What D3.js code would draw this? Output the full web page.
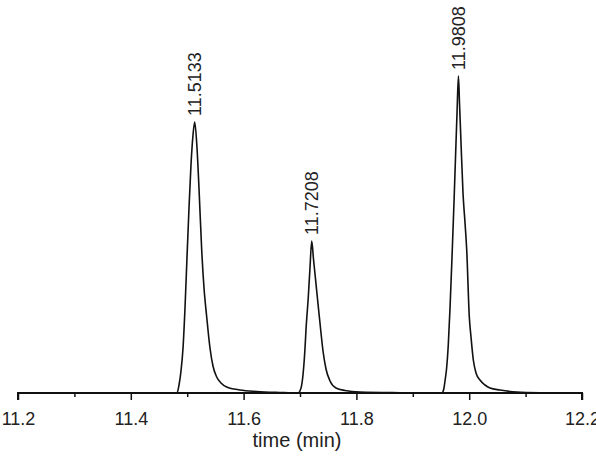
<!DOCTYPE html>
<html>
<head>
<meta charset="utf-8">
<script src="https://cdn.jsdelivr.net/npm/d3@7"></script>
<style>
  html, body { margin: 0; padding: 0; background: #fff; }
  svg { display: block; }
  text { font-family: "Liberation Sans", Arial, sans-serif; fill: #222; }
</style>
</head>
<body>
<svg id="chart" width="596" height="456"></svg>
<script>
// ---- data ----
const xDomain = [11.2, 12.2];
const majorTicks = [11.2, 11.4, 11.6, 11.8, 12.0, 12.2];
const minorTicks = [11.3, 11.5, 11.7, 11.9, 12.1];
const xTitle = "time (min)";

// chromatogram trace: retention time (min) and detector signal (a.u.)
const times = [
  11.2000, 11.4600, 11.4819, 11.4855, 11.4890, 11.4926, 11.4961, 11.4996, 11.5032, 11.5067, 11.5103,
  11.5133, 11.5174, 11.5209, 11.5257, 11.5298, 11.5346, 11.5404, 11.5457, 11.5523, 11.5599,
  11.5700, 11.5936, 11.6232, 11.6645, 11.6965, 11.7018, 11.7053, 11.7089, 11.7106, 11.7147,
  11.7177, 11.7208, 11.7239, 11.7266, 11.7307, 11.7367, 11.7408, 11.7461, 11.7532, 11.7638,
  11.7798, 11.8064, 11.8773, 11.9518, 11.9536, 11.9553, 11.9571, 11.9598, 11.9629, 11.9660, 11.9700,
  11.9730, 11.9757, 11.9784, 11.9809, 11.9828, 11.9855, 11.9890, 11.9926, 11.9956, 12.0002,
  12.0032, 12.0073, 12.0121, 12.0191, 12.0280, 12.0369, 12.0546, 12.0842, 12.1255, 12.2000
];
const signal = [
  0, 0, 0, 8, 22, 45, 85, 135, 185, 228, 258,
  271, 245, 205, 143, 105, 76, 45, 27, 16, 10,
  6, 3, 1.5, 0.5, 0, 5, 18, 45, 63, 96,
  125, 152, 134, 119, 96, 63, 42, 24, 12, 5,
  2.5, 1, 0.3, 0, 1.5, 5, 12, 24, 48, 85, 143,
  190, 235, 280, 317, 290, 250, 200, 170, 143, 76,
  56, 33, 20, 13, 8, 5, 3, 1, 0.3, 0
];

// peak annotations
const peakTimes = [11.5133, 11.7208, 11.9808];
const peakHeights = [271, 152, 317];
const peakLabels = ["11.5133", "11.7208", "11.9808"];

// ---- drawing ----
const svg = d3.select("#chart");
const x = d3.scaleLinear().domain(xDomain).range([18, 582]);
const y = d3.scaleLinear().domain([0, 320]).range([393, 73]);

const pts = times.map((t, i) => [t, signal[i]]);

const line = d3.line()
  .x(d => x(d[0]))
  .y(d => y(d[1]))
  .curve(d3.curveMonotoneX);

svg.append("path")
  .datum(pts)
  .attr("d", line)
  .attr("fill", "none")
  .attr("stroke", "#111")
  .attr("stroke-width", 1.6);

// minor ticks
const minorAxis = d3.axisBottom(x).tickValues(minorTicks).tickSize(4).tickFormat("");
const gMinor = svg.append("g").attr("transform", "translate(0,393)").call(minorAxis);
gMinor.select(".domain").remove();
gMinor.selectAll("line").attr("stroke", "#111").attr("stroke-width", 1.5);

// major axis
const axis = d3.axisBottom(x).tickValues(majorTicks).tickSize(7).tickPadding(12)
  .tickFormat(d3.format(".1f"));
const gAxis = svg.append("g").attr("transform", "translate(0,393)").call(axis);
gAxis.select(".domain").attr("stroke", "#111").attr("stroke-width", 2)
  .attr("d", `M${x(xDomain[0])},7V0H${x(xDomain[1])}V7`);
gAxis.selectAll(".tick line").attr("stroke", "#111").attr("stroke-width", 1.5);
gAxis.selectAll(".tick text")
  .style("font-family", '"Liberation Sans", Arial, sans-serif')
  .style("font-size", "18px").attr("fill", "#222");

svg.append("text")
  .attr("x", (x(xDomain[0]) + x(xDomain[1])) / 2 - 3)
  .attr("y", 447)
  .attr("text-anchor", "middle")
  .style("font-size", "20px")
  .text(xTitle);

// peak labels
peakTimes.forEach((t, i) => {
  const px = x(t), py = y(peakHeights[i]) - 6;
  svg.append("text")
    .attr("transform", `translate(${px},${py}) rotate(-90)`)
    .attr("dy", "0.35em")
    .attr("text-anchor", "start")
    .style("font-size", "18px")
    .text(peakLabels[i]);
});
</script>
</body>
</html>
